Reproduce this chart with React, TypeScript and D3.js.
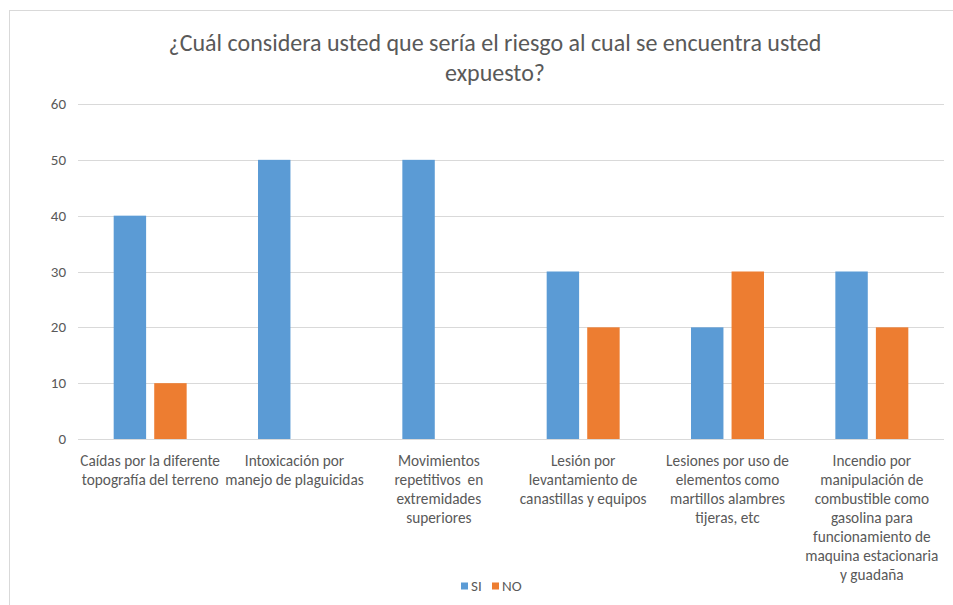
import React, { useEffect, useRef } from "react";
import * as d3 from "d3";

// chart data
const title = ["¿Cuál considera usted que sería el riesgo al cual se encuentra usted", "expuesto?"];
const categories = [
  "Caídas por la diferente\ntopografía del terreno",
  "Intoxicación por\nmanejo de plaguicidas",
  "Movimientos\nrepetitivos  en\nextremidades\nsuperiores",
  "Lesión por\nlevantamiento de\ncanastillas y equipos",
  "Lesiones por uso de\nelementos como\nmartillos alambres\ntijeras, etc",
  "Incendio por\nmanipulación de\ncombustible como\ngasolina para\nfuncionamiento de\nmaquina estacionaria\ny guadaña",
];
const series = ["SI", "NO"];
const siValues = [40, 50, 50, 30, 20, 30];
const noValues = [10, 0, 0, 20, 30, 20];
const yTicks = [0, 10, 20, 30, 40, 50, 60];
const colors = ["#5b9bd5", "#ed7d31"];

const W = 953;
const H = 605;
const FONT = "Carlito, Calibri, Lato, sans-serif";

const App = () => {
  const svgRef = useRef<SVGSVGElement>(null);

  useEffect(() => {
    const svg = d3.select(svgRef.current);
    svg.selectAll("*").remove();

    const plot = { left: 78, right: 944, top: 104, bottom: 439 };

    // frame of the chart area (only top and left edges are visible)
    svg.append("rect")
      .attr("x", 9.5).attr("y", 10.5)
      .attr("width", W + 20).attr("height", H + 20)
      .attr("fill", "#fff")
      .attr("stroke", "#d9d9d9")
      .attr("stroke-width", 1);

    // title
    svg.append("text")
      .attr("text-anchor", "middle")
      .attr("font-family", FONT)
      .attr("font-size", 24)
      .attr("fill", "#595959")
      .selectAll("tspan")
      .data(title)
      .join("tspan")
      .attr("x", 495)
      .attr("y", (d, i) => 51 + i * 30)
      .text(d => d);

    const y = d3.scaleLinear().domain([0, 60]).range([plot.bottom, plot.top]);
    const x0 = d3.scaleBand().domain(categories).range([plot.left, plot.right]).padding(0);
    const x1 = d3.scaleBand().domain(series).range([0, x0.bandwidth()]).paddingInner(0.2).paddingOuter(0.88);

    // gridlines
    svg.append("g")
      .selectAll("line")
      .data(yTicks)
      .join("line")
      .attr("x1", plot.left).attr("x2", plot.right)
      .attr("y1", d => Math.round(y(d)) + 0.5)
      .attr("y2", d => Math.round(y(d)) + 0.5)
      .attr("stroke", "#d9d9d9")
      .attr("stroke-width", 1);

    // y tick labels
    svg.append("g")
      .selectAll("text")
      .data(yTicks)
      .join("text")
      .attr("x", 66)
      .attr("y", d => y(d) + 5)
      .attr("text-anchor", "end")
      .attr("font-family", FONT)
      .attr("font-size", 15)
      .attr("fill", "#595959")
      .text(d => d);

    // bars
    const table = categories.map((c, i) => ({ cat: c, vals: [siValues[i], noValues[i]] }));
    const groups = svg.append("g")
      .selectAll("g")
      .data(table)
      .join("g")
      .attr("transform", d => `translate(${x0(d.cat)},0)`);

    groups.selectAll("rect")
      .data(d => d.vals.map((v, k) => ({ key: series[k], v, k })))
      .join("rect")
      .attr("x", d => x1(d.key)!)
      .attr("width", x1.bandwidth())
      .attr("y", d => y(d.v))
      .attr("height", d => y(0) - y(d.v))
      .attr("fill", d => colors[d.k]);

    // category labels
    svg.append("g")
      .selectAll("text")
      .data(categories)
      .join("text")
      .attr("text-anchor", "middle")
      .attr("font-family", FONT)
      .attr("font-size", 15.3)
      .attr("fill", "#595959")
      .style("white-space", "pre")
      .each(function (d) {
        const cx = x0(d)! + x0.bandwidth() / 2;
        d3.select(this)
          .selectAll("tspan")
          .data(d.split("\n"))
          .join("tspan")
          .attr("x", cx)
          .attr("y", (l, i) => 466 + i * 19)
          .text(l => l);
      });

    // legend
    const legend = svg.append("g").attr("transform", "translate(461,580)");
    const items = legend.selectAll("g")
      .data(series)
      .join("g")
      .attr("transform", (d, i) => `translate(${i * 31},0)`);
    items.append("rect")
      .attr("width", 7).attr("height", 7)
      .attr("y", 2.5)
      .attr("fill", (d, i) => colors[i]);
    items.append("text")
      .attr("x", 10)
      .attr("y", 11)
      .attr("font-family", FONT)
      .attr("font-size", 15)
      .attr("fill", "#595959")
      .text(d => d);
  }, []);

  return (
    <svg ref={svgRef} width={W} height={H} style={{ position: "absolute", left: 0, top: 0, background: "#fff" }} />
  );
};

export default App;
